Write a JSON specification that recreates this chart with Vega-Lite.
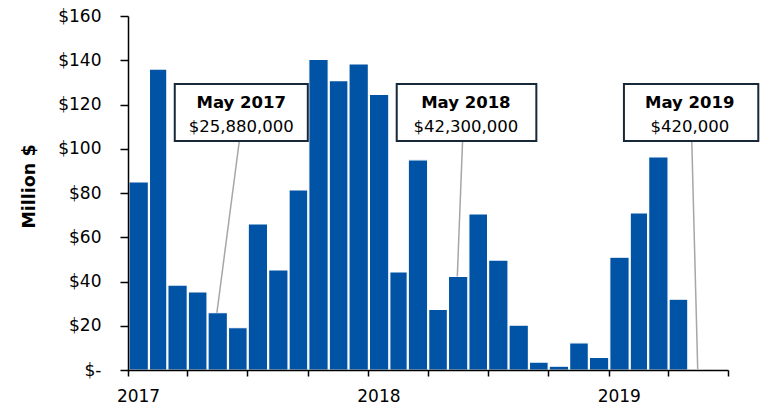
{
  "$schema": "https://vega.github.io/schema/vega-lite/v6.json",
  "width": 600,
  "height": 354,
  "autosize": {"type": "none"},
  "padding": {"left": 128, "top": 16, "right": 33, "bottom": 38},
  "background": "white",
  "config": {
    "view": {"stroke": null},
    "font": "DejaVu Sans"
  },
  "datasets": {
    "monthly": [
      {"month": "2017-01", "value": 85},
      {"month": "2017-02", "value": 136},
      {"month": "2017-03", "value": 38.4},
      {"month": "2017-04", "value": 35.3},
      {"month": "2017-05", "value": 25.88},
      {"month": "2017-06", "value": 19.1},
      {"month": "2017-07", "value": 66},
      {"month": "2017-08", "value": 45.2},
      {"month": "2017-09", "value": 81.4},
      {"month": "2017-10", "value": 140.4},
      {"month": "2017-11", "value": 130.8},
      {"month": "2017-12", "value": 138.3},
      {"month": "2018-01", "value": 124.6},
      {"month": "2018-02", "value": 44.3},
      {"month": "2018-03", "value": 95},
      {"month": "2018-04", "value": 27.4},
      {"month": "2018-05", "value": 42.3},
      {"month": "2018-06", "value": 70.5},
      {"month": "2018-07", "value": 49.7},
      {"month": "2018-08", "value": 20.3},
      {"month": "2018-09", "value": 3.6},
      {"month": "2018-10", "value": 1.7},
      {"month": "2018-11", "value": 12.3},
      {"month": "2018-12", "value": 5.7},
      {"month": "2019-01", "value": 51},
      {"month": "2019-02", "value": 71},
      {"month": "2019-03", "value": 96.3},
      {"month": "2019-04", "value": 32},
      {"month": "2019-05", "value": 0.42}
    ],
    "notes": [
      {"label": "May 2017", "amount": "$25,880,000", "mid": "2017-05-16", "value": 25.88, "lineFrom": "2017-06-19", "boxFrom": "2017-03-13", "boxTo": "2017-10-01", "textAt": "2017-06-22"},
      {"label": "May 2018", "amount": "$42,300,000", "mid": "2018-05-16", "value": 42.3, "lineFrom": "2018-05-24", "boxFrom": "2018-02-13", "boxTo": "2018-09-13", "textAt": "2018-05-29"},
      {"label": "May 2019", "amount": "$420,000", "mid": "2019-05-16", "value": 0.42, "lineFrom": "2019-05-07", "boxFrom": "2019-01-24", "boxTo": "2019-08-16", "textAt": "2019-05-04"}
    ]
  },
  "layer": [
    {
      "data": {"name": "monthly"},
      "mark": {"type": "bar", "color": "#0153a5", "stroke": "#ffffff", "strokeWidth": 1.2},
      "encoding": {
        "x": {
          "field": "month",
          "timeUnit": "utcyearmonth",
          "type": "temporal",
          "scale": {
            "type": "utc",
            "nice": false,
            "domain": [
              {"year": 2017, "month": 1, "date": 1, "utc": true},
              {"year": 2019, "month": 7, "date": 1, "utc": true}
            ]
          },
          "axis": {
            "title": null,
            "zindex": 1,
            "values": [
              {"year": 2017, "month": 1, "date": 1, "utc": true},
              {"year": 2017, "month": 4, "date": 1, "utc": true},
              {"year": 2017, "month": 7, "date": 1, "utc": true},
              {"year": 2017, "month": 10, "date": 1, "utc": true},
              {"year": 2018, "month": 1, "date": 1, "utc": true},
              {"year": 2018, "month": 4, "date": 1, "utc": true},
              {"year": 2018, "month": 7, "date": 1, "utc": true},
              {"year": 2018, "month": 10, "date": 1, "utc": true},
              {"year": 2019, "month": 1, "date": 1, "utc": true},
              {"year": 2019, "month": 4, "date": 1, "utc": true},
              {"year": 2019, "month": 7, "date": 1, "utc": true}
            ],
            "labelExpr": "utcmonth(datum.value) == 0 ? utcFormat(datum.value, '%Y') : ''",
            "labelOffset": 10,
            "labelFontSize": 17,
            "labelColor": "#000000",
            "labelPadding": 12,
            "labelOverlap": false,
            "labelFlush": false,
            "grid": false,
            "domainColor": "#000000",
            "domainWidth": 1.5,
            "tickColor": "#000000",
            "tickWidth": 1.5,
            "tickSize": 6
          }
        },
        "y": {
          "field": "value",
          "type": "quantitative",
          "scale": {"domain": [0, 160], "nice": false},
          "axis": {
            "title": "Million $",
            "zindex": 1,
            "titleFontSize": 17.5,
            "titleFontWeight": "bold",
            "titleColor": "#000000",
            "titleX": -90,
            "titleY": 170,
            "titleAngle": -90,
            "titleBaseline": "bottom",
            "titleAlign": "center",
            "values": [0, 20, 40, 60, 80, 100, 120, 140, 160],
            "labelExpr": "datum.value == 0 ? '$-' : '$' + datum.value",
            "labelFontSize": 17,
            "labelColor": "#000000",
            "labelPadding": 19,
            "grid": false,
            "domainColor": "#000000",
            "domainWidth": 1.5,
            "tickColor": "#000000",
            "tickWidth": 1.5,
            "tickSize": 8
          }
        }
      }
    },
    {
      "data": {"name": "notes"},
      "mark": {"type": "rule", "color": "#a6a6a6", "strokeWidth": 1.5},
      "encoding": {
        "x": {"field": "mid", "type": "temporal", "scale": {"type": "utc"}},
        "x2": {"field": "lineFrom"},
        "y": {"field": "value", "type": "quantitative"},
        "y2": {"datum": 103.5}
      }
    },
    {
      "data": {"name": "notes"},
      "mark": {"type": "rect", "fill": "#ffffff", "stroke": "#17283b", "strokeWidth": 2},
      "encoding": {
        "x": {"field": "boxFrom", "type": "temporal", "scale": {"type": "utc"}},
        "x2": {"field": "boxTo"},
        "y": {"datum": 129.3, "type": "quantitative"},
        "y2": {"datum": 103.5}
      }
    },
    {
      "data": {"name": "notes"},
      "mark": {"type": "text", "fontSize": 16.5, "fontWeight": "bold", "color": "#000000", "baseline": "middle", "align": "center"},
      "encoding": {
        "x": {"field": "textAt", "type": "temporal", "scale": {"type": "utc"}},
        "y": {"datum": 120.7, "type": "quantitative"},
        "text": {"field": "label"}
      }
    },
    {
      "data": {"name": "notes"},
      "mark": {"type": "text", "fontSize": 16.5, "color": "#000000", "baseline": "middle", "align": "center"},
      "encoding": {
        "x": {"field": "textAt", "type": "temporal", "scale": {"type": "utc"}},
        "y": {"datum": 109.8, "type": "quantitative"},
        "text": {"field": "amount"}
      }
    }
  ]
}
